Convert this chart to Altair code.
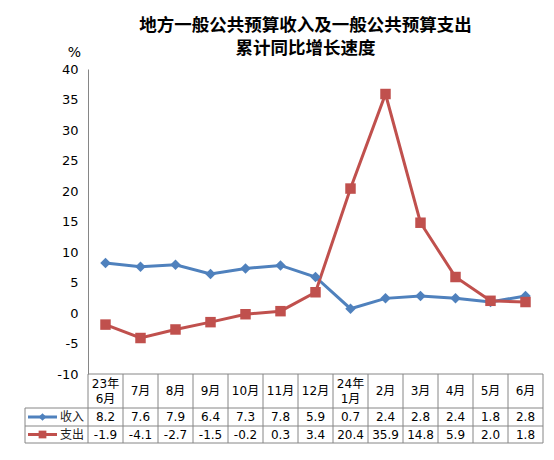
import altair as alt
import pandas as pd

# 数据：地方一般公共预算收入/支出累计同比增速(%)
months = ["23年\n6月", "7月", "8月", "9月", "10月", "11月", "12月",
          "24年\n1月", "2月", "3月", "4月", "5月", "6月"]
revenue = [8.2, 7.6, 7.9, 6.4, 7.3, 7.8, 5.9, 0.7, 2.4, 2.8, 2.4, 1.8, 2.8]
expenditure = [-1.9, -4.1, -2.7, -1.5, -0.2, 0.3, 3.4, 20.4, 35.9, 14.8, 5.9, 2.0, 1.8]
series_names = ["收入", "支出"]
y_ticks = [-10, -5, 0, 5, 10, 15, 20, 25, 30, 35, 40]

colors = ["#4F81BD", "#C0504D"]
shapes = ["diamond", "square"]
GRID = "#868686"
FONT = "DejaVu Sans, Noto Sans CJK SC"

df = pd.DataFrame({
    "month": months * 2,
    "series": [series_names[0]] * len(months) + [series_names[1]] * len(months),
    "value": revenue + expenditure,
})
df["label"] = [f"{v:.1f}" for v in df["value"]]
month_df = pd.DataFrame({"month": months})
month_df["two_line"] = month_df["month"].str.contains("\n")
one = pd.DataFrame({"k": [0]})

W, H = 455, 305
TABLE_BOTTOM = 374
HEAD_MID = 322
LINE_H = 15
ROW_Y = [348, 365.5]          # 收入行 / 支出行 中心
ROW_LINES = [339, 357, 374]   # 表格横线
LEG_X = -63

band = alt.Scale(type="band", paddingInner=0, paddingOuter=0)
x_enc = alt.X("month:N", sort=months, axis=None, scale=band)
color_enc = alt.Color("series:N", scale=alt.Scale(domain=series_names, range=colors), legend=None)

y_enc = alt.Y(
    "value:Q",
    scale=alt.Scale(domain=[-10, 40], nice=False),
    axis=alt.Axis(
        values=y_ticks, grid=False, ticks=False, labelPadding=10, labelOverlap=False,
        labelExpr="replace(datum.label, '\u2212', '-')",
        labelFont="DejaVu Sans", labelFontSize=13, labelColor="#000",
        domainColor=GRID, title="%", titleAngle=0, titleX=-14, titleY=-17,
        titleAlign="center", titleBaseline="middle", titleFontWeight="normal",
        titleFontSize=14, titleFont="DejaVu Sans", titleColor="#000",
    ),
)

lines = alt.Chart(df).mark_line(strokeWidth=3).encode(x=x_enc, y=y_enc, color=color_enc)
points = alt.Chart(df).mark_point(filled=True, size=110, opacity=1).encode(
    x=x_enc, y=y_enc, color=color_enc,
    shape=alt.Shape("series:N", scale=alt.Scale(domain=series_names, range=shapes), legend=None),
)

# 表格
header_style = dict(font=FONT, fontSize=12, lineBreak="\n", lineHeight=LINE_H,
                    baseline="middle", color="#000")
header_one = alt.Chart(month_df).transform_filter("!datum.two_line").mark_text(
    **header_style).encode(x=x_enc, y=alt.value(HEAD_MID), text="month:N")
header_two = alt.Chart(month_df).transform_filter("datum.two_line").mark_text(
    **header_style).encode(x=x_enc, y=alt.value(HEAD_MID - LINE_H / 2), text="month:N")

vlines = alt.Chart(month_df).mark_rule(color=GRID, strokeWidth=1).encode(
    x=alt.X("month:N", sort=months, axis=None, scale=band, bandPosition=0),
    y=alt.value(H), y2=alt.value(TABLE_BOTTOM),
)
layers = [lines, points, header_one, header_two, vlines]

layers.append(alt.Chart(one).mark_rule(color=GRID).encode(
    x=alt.value(W), y=alt.value(H), y2=alt.value(TABLE_BOTTOM)))
layers.append(alt.Chart(one).mark_rule(color=GRID).encode(
    x=alt.value(LEG_X), y=alt.value(ROW_LINES[0]), y2=alt.value(TABLE_BOTTOM)))
layers.append(alt.Chart(one).mark_rule(color=GRID).encode(
    x=alt.value(0), x2=alt.value(W), y=alt.value(H)))
for ly in ROW_LINES:
    layers.append(alt.Chart(one).mark_rule(color=GRID).encode(
        x=alt.value(LEG_X), x2=alt.value(W), y=alt.value(ly)))

for name, col, shp, cy in zip(series_names, colors, shapes, ROW_Y):
    layers.append(
        alt.Chart(df).transform_filter(alt.datum.series == name)
        .mark_text(font=FONT, fontSize=12, baseline="middle", color="#000")
        .encode(x=x_enc, y=alt.value(cy), text="label:N")
    )
    layers.append(alt.Chart(one).mark_rule(color=col, strokeWidth=3).encode(
        x=alt.value(-60), x2=alt.value(-31), y=alt.value(cy)))
    layers.append(alt.Chart(one).mark_point(filled=True, opacity=1, color=col, shape=shp, size=60).encode(
        x=alt.value(-45.5), y=alt.value(cy)))
    layers.append(alt.Chart(pd.DataFrame({"name": [name]})).mark_text(
        font="Noto Sans CJK SC", fontSize=12, baseline="middle", align="center", color="#222"
    ).encode(x=alt.value(-16), y=alt.value(cy), text="name:N"))

chart = alt.layer(*layers).properties(
    width=W, height=H,
    autosize=alt.AutoSizeParams(type="none"),
    padding={"left": 80, "top": 61, "right": 3, "bottom": 75},
    background="white",
    title=alt.TitleParams(
        text=["地方一般公共预算收入及一般公共预算支出", "累计同比增长速度"],
        font="Noto Sans CJK SC", fontSize=17.5, fontWeight="bold", color="#000",
        anchor="middle", lineHeight=23, dx=-10, dy=16,
    ),
).configure_view(stroke=None)

chart.save("out.html", embed_options={"renderer": "svg", "actions": False})
